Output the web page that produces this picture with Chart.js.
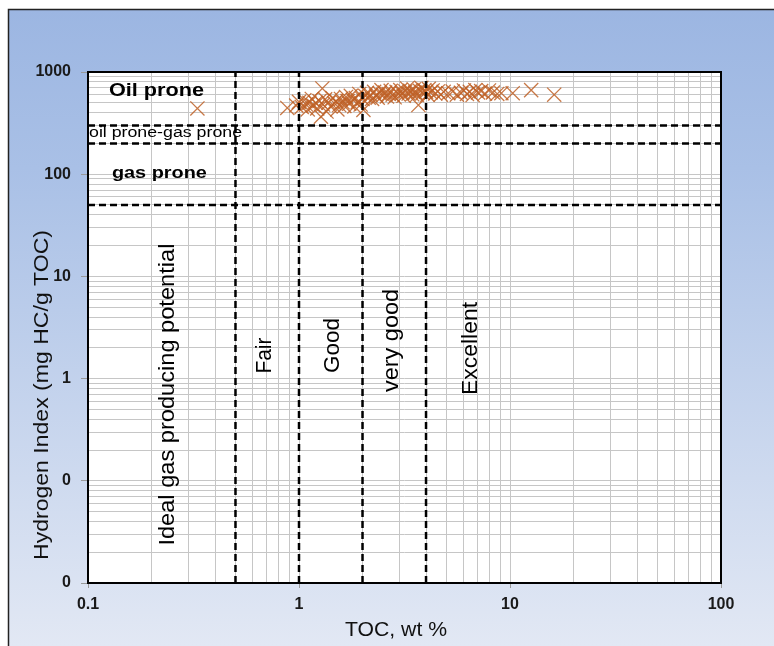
<!DOCTYPE html>
<html>
<head>
<meta charset="utf-8">
<script src="https://cdn.jsdelivr.net/npm/chart.js@4.4.1/dist/chart.umd.min.js"></script>
<style>
  html, body { margin: 0; padding: 0; background: #fff; }
  canvas { display: block; }
</style>
</head>
<body>
<canvas id="hiChart" width="774" height="646"></canvas>
<script>
// Samples: TOC (wt %) and Hydrogen Index (mg HC/g TOC)
const toc = [
  0.33, 0.88, 0.97, 1.00, 1.03, 1.06, 1.08, 1.10, 1.12, 1.15, 1.17, 1.20, 1.22, 1.25, 1.29, 1.27,
  1.30, 1.33, 1.35, 1.38, 1.41, 1.44, 1.47, 1.50, 1.52, 1.55, 1.58, 1.61, 1.64, 1.67, 1.70, 1.73,
  1.76, 1.80, 1.83, 1.86, 1.90, 1.93, 1.96, 2.00, 2.02, 2.06, 2.10, 2.14, 2.18, 2.22, 2.27, 2.32,
  2.36, 2.41, 2.46, 2.51, 2.56, 2.61, 2.66, 2.72, 2.78, 2.84, 2.90, 2.96, 3.02, 3.08, 3.13, 3.19,
  3.25, 3.31, 3.37, 3.44, 3.50, 3.56, 3.62, 3.68, 3.74, 3.80, 3.86, 3.93, 4.00, 4.06, 4.12, 4.20,
  4.30, 4.42, 4.55, 4.70, 4.85, 5.10, 5.35, 5.60, 5.85, 6.05, 6.25, 6.45, 6.65, 6.85, 7.05, 7.30,
  7.60, 7.95, 8.30, 8.70, 9.10, 10.3, 12.6, 16.2
];
const hi = [
  440, 445, 470, 510, 455, 530, 480, 430, 500, 545, 470, 500, 440, 520, 690, 365,
  480, 540, 410, 500, 460, 555, 495, 520, 430, 475, 545, 505, 465, 570, 520, 490,
  585, 535, 460, 555, 510, 610, 480, 545, 425, 585, 625, 560, 600, 545, 640, 590,
  560, 620, 665, 595, 630, 575, 610, 655, 600, 565, 640, 605, 665, 620, 585, 645,
  690, 615, 655, 605, 675, 630, 595, 475, 655, 700, 625, 665, 640, 600, 685, 630,
  660, 615, 645, 600, 640, 620, 645, 600, 625, 660, 610, 640, 595, 665, 630, 650,
  615, 660, 630, 610, 620, 620, 665, 600
];

// Axis ticks
const xMajor = [0.1, 1, 10, 100];
const xTickLabels = ['0.1', '1', '10', '100'];
const yMajor = [0.01, 0.1, 1, 10, 100, 1000];
const yTickLabels = ['0', '0', '1', '10', '100', '1000'];

// Boundaries: kerogen type (HI) and richness (TOC)
const hiLimits = [300, 200, 50];
const tocLimits = [0.5, 1, 2, 4];

// Zone labels
const hiZoneNames = ['Oil prone', 'oil prone-gas prone', 'gas prone'];
const tocZoneNames = ['Ideal gas producing potential', 'Fair', 'Good', 'very good', 'Excellent'];

const FONT = '"Liberation Sans", Arial, sans-serif';

// 1..9 x 10^n ticks between the majors
function logTicks(majors) {
  const out = [];
  majors.forEach((m, i) => {
    if (i === majors.length - 1) { out.push(m); return; }
    for (let k = 1; k < 10; k++) out.push(+(m * k).toPrecision(3));
  });
  return out.map((v) => ({ value: v }));
}

function fitText(ctx, text, x, y, font, width, angle) {
  ctx.save();
  ctx.font = font;
  const w = ctx.measureText(text).width;
  ctx.translate(x, y);
  ctx.rotate(angle || 0);
  ctx.scale(width / w, 1);
  ctx.textAlign = 'center';
  ctx.textBaseline = 'middle';
  ctx.fillText(text, 0, 0);
  ctx.restore();
}

const boundaryStyle = {
  type: 'line',
  borderColor: '#000',
  borderWidth: 2.5,
  borderDash: [7, 4],
  pointRadius: 0,
  fill: false,
  order: 0,
};

const datasets = [
  ...hiLimits.map((h) => ({ ...boundaryStyle, data: [{ x: xMajor[0], y: h }, { x: xMajor[xMajor.length - 1], y: h }] })),
  ...tocLimits.map((t) => ({ ...boundaryStyle, data: [{ x: t, y: yMajor[0] }, { x: t, y: yMajor[yMajor.length - 1] }] })),
  {
    type: 'scatter',
    data: toc.map((t, i) => ({ x: t, y: hi[i] })),
    pointStyle: 'crossRot',
    pointRadius: 10,
    pointBorderWidth: 1.3,
    borderColor: 'rgba(190, 96, 38, 0.85)',
    backgroundColor: 'rgba(190, 96, 38, 0.85)',
    order: 1,
  },
];

const backdrop = {
  id: 'backdrop',
  beforeDraw(chart) {
    const { ctx, width, height, chartArea: a } = chart;
    ctx.save();
    ctx.fillStyle = '#fff';
    ctx.fillRect(0, 0, width, height);
    const g = ctx.createLinearGradient(0, 9, 0, height);
    g.addColorStop(0, '#9cb6e2');
    g.addColorStop(0.25, '#a9c0e6');
    g.addColorStop(1, '#e2e8f4');
    ctx.fillStyle = g;
    ctx.fillRect(8, 9, width - 8, height - 9);
    ctx.strokeStyle = '#222';
    ctx.lineWidth = 1.5;
    ctx.beginPath();
    ctx.moveTo(8.5, height);
    ctx.lineTo(8.5, 9.5);
    ctx.lineTo(width, 9.5);
    ctx.stroke();
    ctx.fillStyle = '#fff';
    ctx.fillRect(a.left, a.top, a.right - a.left, a.bottom - a.top);
    ctx.restore();
  },
  afterDatasetsDraw(chart) {
    const { ctx, scales: { x, y } } = chart;
    ctx.save();
    ctx.fillStyle = '#000';
    // kerogen zones
    fitText(ctx, hiZoneNames[0], x.getPixelForValue(0.211), y.getPixelForValue(652), 'bold 19px ' + FONT, 95);
    fitText(ctx, hiZoneNames[1], x.getPixelForValue(0.233), y.getPixelForValue(252), '14px ' + FONT, 153);
    fitText(ctx, hiZoneNames[2], x.getPixelForValue(0.218), y.getPixelForValue(102), 'bold 17px ' + FONT, 95);
    // richness zones
    const up = -Math.PI / 2;
    fitText(ctx, tocZoneNames[0], x.getPixelForValue(0.238), y.getPixelForValue(0.697), '22px ' + FONT, 302, up);
    fitText(ctx, tocZoneNames[1], x.getPixelForValue(0.689), y.getPixelForValue(1.68), '22px ' + FONT, 36, up);
    fitText(ctx, tocZoneNames[2], x.getPixelForValue(1.45), y.getPixelForValue(2.11), '22px ' + FONT, 55, up);
    fitText(ctx, tocZoneNames[3], x.getPixelForValue(2.77), y.getPixelForValue(2.36), '22px ' + FONT, 103, up);
    fitText(ctx, tocZoneNames[4], x.getPixelForValue(6.52), y.getPixelForValue(1.97), '22px ' + FONT, 93, up);
    ctx.restore();
  },
  afterDraw(chart) {
    const { ctx, chartArea: a } = chart;
    ctx.save();
    ctx.strokeStyle = '#000';
    ctx.lineWidth = 2;
    ctx.strokeRect(a.left, a.top, a.right - a.left, a.bottom - a.top);
    // axis titles
    ctx.fillStyle = '#111';
    fitText(ctx, 'Hydrogen Index (mg HC/g TOC)', 42, 395, '20px ' + FONT, 330, -Math.PI / 2);
    fitText(ctx, 'TOC, wt %', 396, 630, '20px ' + FONT, 102);
    ctx.restore();
  },
};

const isMajorOf = (majors) => (ctx) => majors.includes(ctx.tick && ctx.tick.value);

new Chart(document.getElementById('hiChart'), {
  data: { datasets },
  options: {
    responsive: false,
    animation: false,
    devicePixelRatio: 1,
    layout: { padding: { left: 0, top: 72, right: 53, bottom: 0 } },
    plugins: {
      legend: { display: false },
      tooltip: { enabled: false },
    },
    scales: {
      x: {
        type: 'logarithmic',
        min: xMajor[0],
        max: xMajor[xMajor.length - 1],
        afterBuildTicks: (s) => { s.ticks = logTicks(xMajor); },
        afterFit: (s) => { s.height = 63; },
        border: { display: false },
        grid: {
          color: '#c6c6c6',
          lineWidth: 1,
          tickLength: 5,
          tickColor: (ctx) => (isMajorOf(xMajor)(ctx) ? '#999' : 'rgba(0,0,0,0)'),
        },
        ticks: {
          autoSkip: false,
          maxRotation: 0,
          padding: 7,
          color: '#1a1a1a',
          font: { family: FONT, size: 16, weight: 'bold' },
          callback: (v) => { const i = xMajor.indexOf(v); return i >= 0 ? xTickLabels[i] : ''; },
        },
      },
      y: {
        type: 'logarithmic',
        min: yMajor[0],
        max: yMajor[yMajor.length - 1],
        afterBuildTicks: (s) => { s.ticks = logTicks(yMajor); },
        afterFit: (s) => { s.width = 88; },
        border: { display: false },
        grid: {
          color: '#c6c6c6',
          lineWidth: 1,
          tickLength: 7,
          tickColor: (ctx) => (isMajorOf(yMajor)(ctx) ? '#999' : 'rgba(0,0,0,0)'),
        },
        ticks: {
          autoSkip: false,
          padding: 10,
          color: '#1a1a1a',
          font: { family: FONT, size: 16, weight: 'bold' },
          callback: (v) => { const i = yMajor.indexOf(v); return i >= 0 ? yTickLabels[i] : ''; },
        },
      },
    },
  },
  plugins: [backdrop],
});
</script>
</body>
</html>
